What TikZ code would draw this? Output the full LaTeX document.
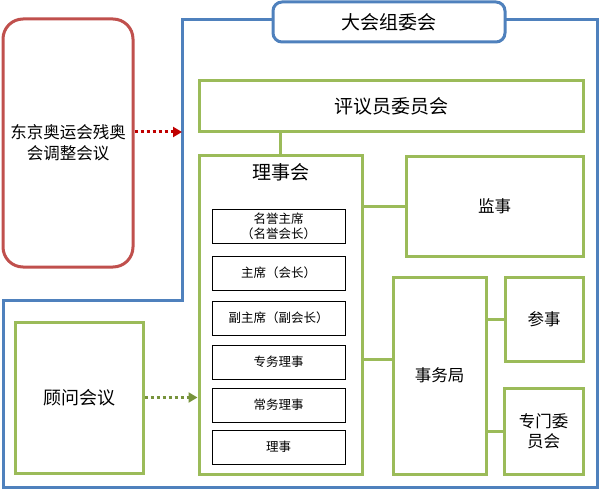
\documentclass[tikz,border=0pt]{standalone}
\usepackage{fontspec}
\setmainfont{Noto Sans CJK SC}
\usetikzlibrary{arrows.meta}
\definecolor{orgblue}{HTML}{4F81BD}
\definecolor{boxgreen}{HTML}{9BBB59}
\definecolor{boxred}{HTML}{C0504D}
\definecolor{arrred}{HTML}{C00000}
\definecolor{arrgreen}{HTML}{77933C}
\tikzset{
	gbox/.style={draw=boxgreen, line width=3pt, fill=white, inner sep=2pt, align=center, font=\fontsize{16.5}{20}\selectfont},
	bigtext/.style={font=\fontsize{19}{22}\selectfont},
	role/.style={draw=black, line width=0.9pt, fill=white, minimum width=133pt, minimum height=34pt, inner sep=1pt, align=center, font=\fontsize{12.5}{15}\selectfont},
	gline/.style={draw=boxgreen, line width=3pt},
	dotarrow/.style={line width=3pt, dash pattern=on 3pt off 3pt, -{Triangle[length=9pt,width=10pt]}}
}

\begin{document}
\begin{tikzpicture}[x=1pt, y=-1pt]
			%%%%% START %%%%%
			\useasboundingbox (0,0) rectangle (599,489);
			
			\draw[orgblue, line width=3pt] (3,487) -- (3,300) -- (182,300) -- (182,20) -- (597,20) -- (597,487) -- cycle;
			\node[draw=orgblue, line width=3pt, rounded corners=9pt, fill=white, minimum width=232pt, minimum height=40pt, bigtext] (zuwei) at (389,22) {大会组委会};
			
			\node[draw=boxred, line width=3pt, rounded corners=20pt, minimum width=130pt, minimum height=248pt, align=center, font=\fontsize{16.5}{21}\selectfont] (tiaozheng) at (68,143) {东京奥运会残奥\\会调整会议};
			\coordinate (orgleft) at (182,132);
			\draw[dotarrow, arrred] (tiaozheng.east |- orgleft) -- (orgleft);
			
			\node[gbox, minimum width=384pt, minimum height=51pt, bigtext] (pingyi) at (391,106.5) {评议员委员会};
			
			\node[gbox, minimum width=163pt, minimum height=318pt] (lishihui) at (280.5,315) {};
			\node[bigtext] (lshtitle) at (281,172) {理事会};
			\draw[gline] (lishihui.north) -- (lishihui.north |- pingyi.south);
			
			\node[role] (mingyu) at (278.5,226.5) {名誉主席\\（名誉会长）};
			\node[role] (zhuxi) at (278.5,273) {主席（会长）};
			\node[role] (fuzhuxi) at (278.5,318) {副主席（副会长）};
			\node[role] (zhuanwu) at (278.5,362) {专务理事};
			\node[role] (changwu) at (278.5,405) {常务理事};
			\node[role] (lishi) at (278.5,447) {理事};
			
			\node[gbox, minimum width=177pt, minimum height=99pt] (jianshi) at (494.5,206.5) {监事};
			\draw[gline] (jianshi.west) -- (jianshi.west -| lishihui.east);
			
			\node[gbox, minimum width=93pt, minimum height=197pt] (shiwuju) at (439.5,375.5) {事务局};
			\coordinate (sjin) at ([yshift=16.5pt]shiwuju.west);
			\draw[gline] (sjin) -- (sjin -| lishihui.east);
			
			\node[gbox, minimum width=78pt, minimum height=84pt] (canshi) at (544,319) {参事};
			\draw[gline] (canshi.west) -- (canshi.west -| shiwuju.east);
			\node[gbox, minimum width=79pt, minimum height=86pt] (zhuanmen) at (543.5,431) {专门委\\员会};
			\draw[gline] (zhuanmen.west) -- (zhuanmen.west -| shiwuju.east);
			
			\node[gbox, minimum width=128pt, minimum height=151pt, font=\fontsize{18}{22}\selectfont] (guwen) at (79,397.5) {顾问会议};
			\draw[dotarrow, arrgreen] (guwen.east) -- (guwen.east -| lishihui.west);
			%%%%% END %%%%%
\end{tikzpicture}
\end{document}
